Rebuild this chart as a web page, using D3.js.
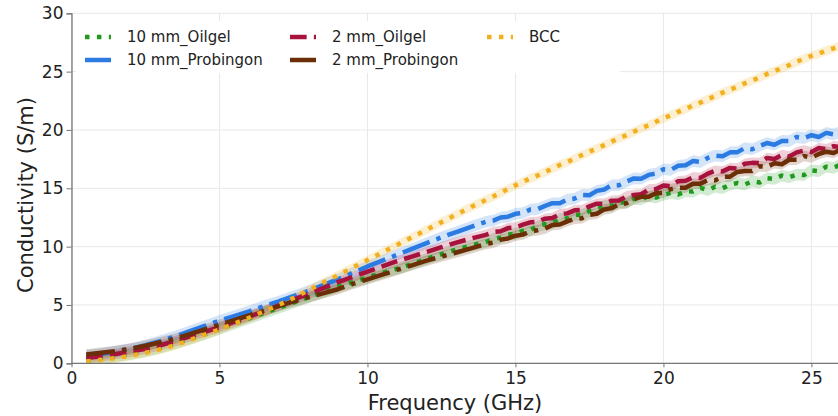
<!DOCTYPE html>
<html>
<head>
<meta charset="utf-8">
<script src="https://cdn.jsdelivr.net/npm/d3@7"></script>
<style>
  html, body { margin: 0; padding: 0; background: #fff; }
  svg { display: block; font-family: "DejaVu Sans", sans-serif; }
</style>
</head>
<body>
<svg id="chart" width="838" height="416"></svg>
<script>
// Frequency sampling (GHz)
const freqGHz = [
  0.5, 1, 1.5, 2, 2.5, 3, 3.5, 4, 4.5, 5, 5.5, 6, 6.5, 7, 7.5, 8, 8.5, 9, 9.5, 10,
  10.5, 11, 11.5, 12, 12.5, 13, 13.5,
  14, 14.25, 14.5, 14.75, 15, 15.25, 15.5, 15.75, 16, 16.25, 16.5, 16.75, 17, 17.25,
  17.5, 17.75, 18, 18.25, 18.5, 18.75, 19, 19.25, 19.5, 19.75, 20, 20.25, 20.5, 20.75,
  21, 21.25, 21.5, 21.75, 22, 22.25, 22.5, 22.75, 23, 23.25, 23.5, 23.75, 24, 24.25,
  24.5, 24.75, 25, 25.25, 25.5, 25.75, 26
];

// Conductivity (S/m) per sample
const oilgel10 = [
  0.3, 0.45, 0.6, 0.8, 1.05, 1.35, 1.7, 2.1, 2.5, 2.95, 3.4, 3.85, 4.3, 4.75, 5.2, 5.65, 6.1, 6.55, 6.95, 7.35,
  7.75, 8.1, 8.5, 8.95, 9.35, 9.75, 10.1,
  10.40, 10.67, 10.77, 11.04, 11.09, 11.36, 11.42, 11.75, 11.93, 12.01, 12.36, 12.43, 12.73, 12.73,
  13.05, 13.17, 13.50, 13.50, 13.80, 13.77, 14.09, 14.05, 14.33, 14.20, 14.43, 14.61, 14.47, 14.75,
  14.72, 15.03, 14.85, 15.13, 15.01, 15.31, 15.45, 15.32, 15.60, 15.50, 15.86, 15.80, 16.09, 15.95,
  16.18, 16.13, 16.53, 16.47, 16.85, 16.75, 17.05
];
const probingon10 = [
  0.65, 0.8, 1.0, 1.25, 1.55, 1.9, 2.3, 2.75, 3.2, 3.65, 4.05, 4.45, 4.9, 5.3, 5.75, 6.2, 6.7, 7.2, 7.75, 8.3,
  8.8, 9.3, 9.8, 10.3, 10.8, 11.25, 11.7,
  12.13, 12.23, 12.50, 12.57, 12.81, 12.88, 13.18, 13.22, 13.49, 13.72, 13.72, 14.03, 14.12, 14.43,
  14.41, 14.78, 14.90, 15.26, 15.27, 15.58, 15.85, 15.82, 16.15, 16.26, 16.63, 16.58, 16.93, 16.98,
  17.34, 17.25, 17.60, 17.80, 17.74, 18.08, 18.10, 18.45, 18.35, 18.63, 18.88, 18.73, 19.06, 19.05,
  19.39, 19.30, 19.55, 19.40, 19.75, 19.62, 19.83
];
const oilgel2 = [
  0.45, 0.6, 0.8, 1.0, 1.25, 1.55, 1.9, 2.3, 2.7, 3.1, 3.55, 4.0, 4.45, 4.95, 5.45, 5.95, 6.45, 6.95, 7.4, 7.85,
  8.3, 8.75, 9.15, 9.55, 9.95, 10.35, 10.7,
  11.01, 11.25, 11.32, 11.59, 11.65, 11.88, 12.08, 12.12, 12.40, 12.45, 12.79, 12.85, 13.11, 13.14,
  13.45, 13.68, 13.67, 13.94, 13.95, 14.31, 14.43, 14.49, 14.90, 14.93, 15.23, 15.20, 15.61, 15.65,
  15.94, 15.89, 16.26, 16.51, 16.45, 16.75, 16.70, 17.11, 17.18, 17.17, 17.60, 17.52, 17.85, 17.73,
  18.08, 18.23, 18.10, 18.45, 18.35, 18.61, 18.52
];
const probingon2 = [
  0.75, 0.9, 1.05, 1.25, 1.5, 1.8, 2.1, 2.5, 2.9, 3.3, 3.7, 4.1, 4.5, 4.9, 5.3, 5.65, 6.0, 6.35, 6.8, 7.2,
  7.6, 8.0, 8.4, 8.8, 9.15, 9.5, 9.85,
  10.23, 10.34, 10.60, 10.70, 10.94, 11.03, 11.31, 11.40, 11.54, 11.86, 11.90, 12.17, 12.38, 12.44,
  12.73, 12.82, 13.19, 13.30, 13.63, 13.71, 14.06, 14.28, 14.27, 14.58, 14.60, 14.93, 15.04, 15.04,
  15.39, 15.40, 15.71, 15.69, 16.00, 16.00, 16.40, 16.48, 16.49, 16.88, 16.84, 17.14, 17.06, 17.45,
  17.45, 17.76, 17.64, 17.94, 18.14, 18.03, 18.33
];
const bcc = [
  0.15, 0.3, 0.45, 0.65, 0.9, 1.2, 1.55, 2.0, 2.45, 2.9, 3.4, 3.9, 4.45, 5.0, 5.6, 6.25, 6.9, 7.55, 8.2, 8.85,
  9.5, 10.15, 10.8, 11.45, 12.1, 12.75, 13.4,
  14.0, 14.3, 14.6, 14.95, 15.25, 15.55, 15.85, 16.1, 16.4, 16.7, 17.0, 17.25, 17.55, 17.85,
  18.15, 18.4, 18.7, 19.0, 19.3, 19.55, 19.85, 20.15, 20.4, 20.7, 21.0, 21.25, 21.55, 21.8,
  22.1, 22.35, 22.65, 22.9, 23.2, 23.45, 23.7, 24.0, 24.25, 24.5, 24.8, 25.05, 25.3, 25.55,
  25.85, 26.1, 26.35, 26.55, 26.8, 27.0, 27.25
];

// Half-width of the shaded spread around each curve (S/m)
const spreads = [0.5, 0.5, 0.45, 0.45, 0.4];

const seriesNames = ["10 mm_Oilgel", "10 mm_Probingon", "2 mm_Oilgel", "2 mm_Probingon", "BCC"];
const seriesValues = [oilgel10, probingon10, oilgel2, probingon2, bcc];
const seriesColors = ["#1f9a1f", "#2b7be3", "#a8133e", "#6b2e06", "#f2b01e"];

const xTicks = [0, 5, 10, 15, 20, 25];
const yTicks = [0, 5, 10, 15, 20, 25, 30];

const W = 838, H = 416;
const lw = 4.5;
// Line dash patterns in the plot body and in the legend keys
const plotDash = [`${lw},${lw*1.65}`, `${lw*6.4},${lw*1.6},${lw},${lw*1.6}`, `${lw*3.7},${lw*1.6}`,
                  `${lw*6.4},${lw*1.6},${lw},${lw*1.6}`, `${lw},${lw*1.65}`];
const legendDash = [`${lw},${lw*1.65}`, null, `${lw*3.7},${lw*1.6}`, null, `${lw},${lw*1.65}`];

const x = d3.scaleLinear().domain([0, 26]).range([71.5, 841]);
const y = d3.scaleLinear().domain([0, 30]).range([363.3, 13.3]);

const svg = d3.select("#chart");

svg.append("defs").append("clipPath").attr("id", "plotClip")
  .append("rect").attr("x", 71.5).attr("y", 0).attr("width", 780).attr("height", 363.3);

// Grid
const grid = svg.append("g");
grid.selectAll(".gx").data(xTicks).join("line")
  .attr("x1", d => x(d)).attr("x2", d => x(d))
  .attr("y1", y(30)).attr("y2", y(0))
  .attr("stroke", "#e8e8e8").attr("stroke-width", 1);
grid.selectAll(".gy").data(yTicks).join("line")
  .attr("x1", x(0)).attr("x2", W)
  .attr("y1", d => y(d)).attr("y2", d => y(d))
  .attr("stroke", "#e8e8e8").attr("stroke-width", 1);

const plot = svg.append("g").attr("clip-path", "url(#plotClip)");

// Shaded spread bands
const area = d3.area()
  .x((d, i) => x(freqGHz[i]))
  .curve(d3.curveLinear);
seriesValues.forEach((vals, s) => {
  plot.append("path")
    .datum(vals)
    .attr("d", area.y0(d => y(d - spreads[s])).y1(d => y(d + spreads[s])))
    .attr("fill", seriesColors[s])
    .attr("fill-opacity", 0.2)
    .attr("stroke", "none");
});

// Curves
const line = d3.line()
  .x((d, i) => x(freqGHz[i]))
  .y(d => y(d));
seriesValues.forEach((vals, s) => {
  plot.append("path")
    .datum(vals)
    .attr("d", line)
    .attr("fill", "none")
    .attr("stroke", seriesColors[s])
    .attr("stroke-width", lw)
    .attr("stroke-dasharray", plotDash[s])
    .attr("stroke-linecap", "butt")
    .attr("stroke-linejoin", "round");
});

// Axes
const axisColor = "#777";
const gx = svg.append("g").attr("transform", `translate(0,${y(0)})`)
  .call(d3.axisBottom(x).tickValues(xTicks).tickFormat(d3.format("d")).tickSize(4).tickPadding(4.5));
const gy = svg.append("g").attr("transform", `translate(${x(0)},0)`)
  .call(d3.axisLeft(y).tickValues(yTicks).tickFormat(d3.format("d")).tickSize(5).tickPadding(3));
[gx, gy].forEach(g => {
  g.select(".domain").attr("stroke", axisColor).attr("stroke-width", 1.3);
  g.selectAll(".tick line").attr("stroke", axisColor).attr("stroke-width", 1);
  g.selectAll(".tick text").attr("fill", "#222").style("font-size", "17px")
    .style("font-family", "'DejaVu Sans', sans-serif");
});
gx.select(".domain").attr("d", `M${x(0)},0H${W}`);

// Axis titles
svg.append("text")
  .attr("x", 455).attr("y", 410)
  .attr("text-anchor", "middle")
  .attr("fill", "#222").style("font-size", "21px")
  .text("Frequency (GHz)");
svg.append("text")
  .attr("transform", "translate(26,195) rotate(-90)")
  .attr("text-anchor", "middle").attr("dominant-baseline", "central")
  .attr("fill", "#222").style("font-size", "21px")
  .text("Conductivity (S/m)");

// Legend
const legend = svg.append("g");
legend.append("rect")
  .attr("x", 76).attr("y", 21).attr("width", 544).attr("height", 52)
  .attr("fill", "#fff").attr("stroke", "none");
const legendCols = [0, 0, 1, 1, 2];
const legendRows = [0, 1, 0, 1, 0];
const colX = [85, 290, 487];
const rowY = [37, 60];
seriesNames.forEach((name, s) => {
  const lx = colX[legendCols[s]], ly = rowY[legendRows[s]];
  const key = legend.append("line")
    .attr("x1", lx).attr("x2", lx + 26)
    .attr("y1", ly).attr("y2", ly)
    .attr("stroke", seriesColors[s]).attr("stroke-width", lw)
    .attr("stroke-linecap", "butt");
  if (legendDash[s]) key.attr("stroke-dasharray", legendDash[s]);
  legend.append("text")
    .attr("x", lx + 42).attr("y", ly)
    .attr("dominant-baseline", "central")
    .attr("fill", "#222").style("font-size", "15px")
    .text(name);
});
</script>
</body>
</html>
